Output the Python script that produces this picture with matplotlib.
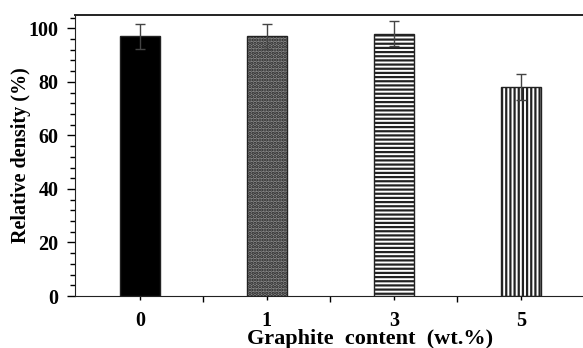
import matplotlib
matplotlib.use("Agg")
import matplotlib.pyplot as plt
from matplotlib.ticker import MultipleLocator, FixedLocator

categories = ["0", "1", "3", "5"]
density = [97.0, 97.0, 98.0, 78.2]
errors = [4.8, 4.8, 4.7, 4.9]

facecolors = ["black", "#8a8a8a", "white", "white"]
hatches = [None, ".....", "----", "||||"]

plt.rcParams["font.family"] = ["Liberation Serif", "DejaVu Serif"]
plt.rcParams["font.weight"] = "bold"
plt.rcParams["hatch.linewidth"] = 1.6

fig = plt.figure(figsize=(5.83, 3.48), dpi=100)
ax = fig.add_axes([75 / 583, 52 / 348, 1 - 75 / 583, 281 / 348])

x = list(range(len(categories)))
bars = ax.bar(x, density, width=0.315, color=facecolors, edgecolor="#222222",
              linewidth=1.0, zorder=2)
for b, h in zip(bars, hatches):
    if h:
        b.set_hatch(h)
ax.errorbar(x, density, yerr=errors, fmt="none", ecolor="#444444",
            elinewidth=1.0, capsize=3.3, capthick=1.0, zorder=3)

ax.set_xlim(-0.51, 3.49)
ax.set_ylim(0, 105)
ax.set_xticks(x)
ax.set_xticklabels(categories)
ax.xaxis.set_minor_locator(FixedLocator([0.5, 1.5, 2.5]))
ax.yaxis.set_major_locator(MultipleLocator(20))
ax.yaxis.set_minor_locator(MultipleLocator(4))

ax.tick_params(axis="y", which="major", direction="out", length=6, width=1,
               labelsize=14.5, pad=6)
ax.tick_params(axis="y", which="minor", direction="out", length=3.5, width=1)
ax.tick_params(axis="x", which="major", direction="out", length=3, width=1,
               labelsize=14.5, pad=7.5)
ax.tick_params(axis="x", which="minor", direction="out", length=4, width=1)

for lab in ax.get_xticklabels() + ax.get_yticklabels():
    lab.set_fontweight("bold")

ax.spines["right"].set_visible(False)
ax.spines["top"].set_linewidth(1.4)
for s in ["left", "bottom", "top"]:
    ax.spines[s].set_color("#222222")

ax.set_ylabel("Relative density (%)", fontsize=14.5, fontweight="bold", labelpad=-2)
ax.set_xlabel("Graphite  content  (wt.%)", fontsize=16, fontweight="bold")
ax.xaxis.set_label_coords((370 - 75) / 508, -0.117)
ax.xaxis.label.set_verticalalignment("top")

fig.savefig("out.png", dpi=100)
